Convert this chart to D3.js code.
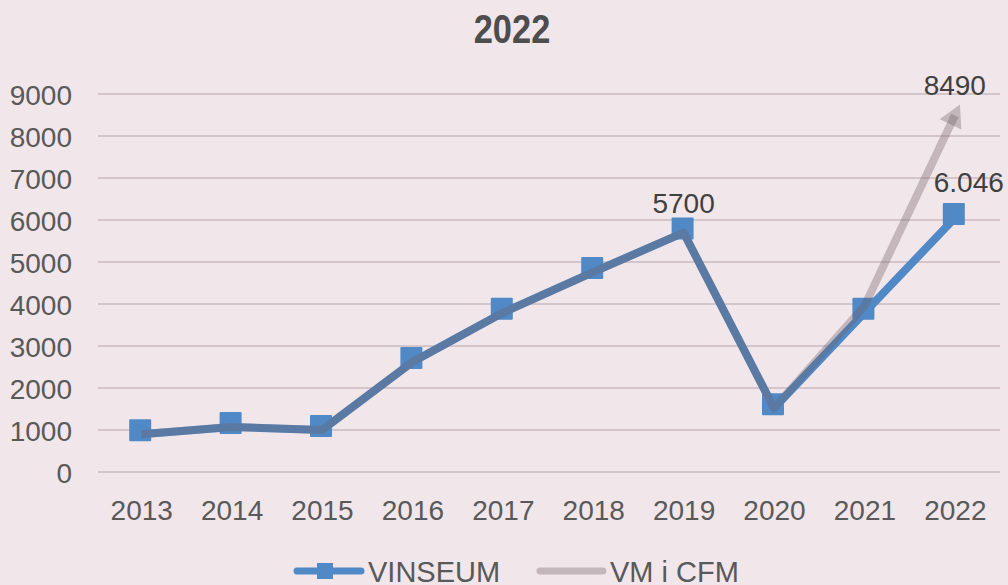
<!DOCTYPE html>
<html>
<head>
<meta charset="utf-8">
<script src="https://cdn.jsdelivr.net/npm/d3@7"></script>
<style>
  body { margin: 0; background: #f1e6ea; }
  text { font-family: "Liberation Sans", Arial, sans-serif; }
</style>
</head>
<body>
<div id="chart"></div>
<script>
var years = ['2013','2014','2015','2016','2017','2018','2019','2020','2021','2022'];
var vinseum = [900, 1070, 1000, 2620, 3790, 4760, 5700, 1520, 3790, 6046];
var vmCfm = [900, 1070, 1000, 2620, 3790, 4760, 5700, 1520, 3950, 8490];
var yTicks = [0,1000,2000,3000,4000,5000,6000,7000,8000,9000];
var seriesNames = ['VINSEUM', 'VM i CFM'];

var width = 1008,
    height = 585;

var blue = '#5089c6',
    grey = 'rgb(110,95,100)';

var svg = d3.select('#chart').append('svg')
  .attr('width', width)
  .attr('height', height);

svg.append('rect')
  .attr('width', width)
  .attr('height', height)
  .attr('fill', '#f1e6ea');

var x = d3.scalePoint()
  .domain(years)
  .range([96, 1000])
  .padding(0.5);

var y = d3.scaleLinear()
  .domain([0, 9000])
  .range([472, 94]);

// title (condensed bold look)
svg.append('text')
  .attr('transform', 'translate(512,43) scale(0.86,1)')
  .attr('text-anchor', 'middle')
  .attr('font-size', 40)
  .attr('font-weight', 'bold')
  .attr('fill', '#4d4d4d')
  .text('2022');

// gridlines
svg.append('g')
  .selectAll('line')
  .data(yTicks)
  .enter()
  .append('line')
  .attr('x1', 98)
  .attr('x2', 1000)
  .attr('y1', function(d) { return y(d); })
  .attr('y2', function(d) { return y(d); })
  .attr('stroke', '#d3c5ca')
  .attr('stroke-width', 2);

// y axis labels
var yAxis = svg.append('g')
  .attr('transform', 'translate(72,0)')
  .call(d3.axisLeft(y).tickValues(yTicks).tickFormat(d3.format('d')).tickSize(0).tickPadding(0));
yAxis.select('.domain').remove();
yAxis.selectAll('text')
  .attr('font-size', 28)
  .attr('fill', '#595959')
  .attr('font-family', null)
  .attr('dy', '0.36em');

// x axis labels
var xAxis = svg.append('g')
  .attr('transform', 'translate(0,499)')
  .call(d3.axisBottom(x).tickSize(0).tickPadding(0));
xAxis.select('.domain').remove();
xAxis.selectAll('text')
  .attr('font-size', 28)
  .attr('fill', '#595959')
  .attr('font-family', null)
  .attr('dy', '0.75em');

var line = d3.line()
  .x(function(d, i) { return x(years[i]); })
  .y(function(d) { return y(d); });

// VINSEUM line + markers
svg.append('path')
  .datum(vinseum)
  .attr('d', line)
  .attr('fill', 'none')
  .attr('stroke', blue)
  .attr('stroke-width', 8)
  .attr('stroke-linejoin', 'round');

svg.append('g')
  .selectAll('rect')
  .data(vinseum)
  .enter()
  .append('rect')
  .attr('x', function(d, i) { return x(years[i]) - 12; })
  .attr('y', function(d) { return y(d) - 15; })
  .attr('width', 22)
  .attr('height', 22)
  .attr('rx', 1)
  .attr('fill', blue);

// VM i CFM line, semi transparent with arrow at end
var last = vmCfm.length - 1;
var x0 = x(years[last - 1]), y0 = y(vmCfm[last - 1]);
var x1 = x(years[last]), y1 = y(vmCfm[last]);
var ang = Math.atan2(y1 - y0, x1 - x0);

svg.append('path')
  .datum(vmCfm)
  .attr('d', line)
  .attr('fill', 'none')
  .attr('stroke', grey)
  .attr('stroke-opacity', 0.35)
  .attr('stroke-width', 8)
  .attr('stroke-linejoin', 'round');

var tip = 12, back = 10, half = 12;
var arrow = [
  [x1 + tip * Math.cos(ang), y1 + tip * Math.sin(ang)],
  [x1 - back * Math.cos(ang) + half * Math.sin(ang), y1 - back * Math.sin(ang) - half * Math.cos(ang)],
  [x1 - back * Math.cos(ang) - half * Math.sin(ang), y1 - back * Math.sin(ang) + half * Math.cos(ang)]
];
svg.append('path')
  .attr('d', 'M' + arrow.join('L') + 'Z')
  .attr('fill', grey)
  .attr('fill-opacity', 0.35);

// data labels
var labels = [
  { year: '2019', value: vinseum[6], text: '5700', dx: 0, dy: -20 },
  { year: '2022', value: vmCfm[9], text: '8490', dx: 0, dy: -20 },
  { year: '2022', value: vinseum[9], text: '6.046', dx: 14, dy: -26 }
];
svg.append('g')
  .selectAll('text')
  .data(labels)
  .enter()
  .append('text')
  .attr('x', function(d) { return x(d.year) + d.dx; })
  .attr('y', function(d) { return y(d.value) + d.dy; })
  .attr('text-anchor', 'middle')
  .attr('font-size', 28)
  .attr('fill', '#404040')
  .text(function(d) { return d.text; });

// legend
var legend = svg.append('g');
legend.append('line')
  .attr('x1', 297).attr('x2', 361)
  .attr('y1', 571).attr('y2', 571)
  .attr('stroke', blue)
  .attr('stroke-width', 7)
  .attr('stroke-linecap', 'round');
legend.append('rect')
  .attr('x', 317).attr('y', 563)
  .attr('width', 16).attr('height', 16)
  .attr('fill', blue);
legend.append('line')
  .attr('x1', 540).attr('x2', 603)
  .attr('y1', 571).attr('y2', 571)
  .attr('stroke', grey)
  .attr('stroke-opacity', 0.35)
  .attr('stroke-width', 7)
  .attr('stroke-linecap', 'round');
legend.selectAll('text')
  .data(seriesNames)
  .enter()
  .append('text')
  .attr('x', function(d, i) { return i === 0 ? 368 : 610; })
  .attr('y', 582)
  .attr('font-size', 29)
  .attr('fill', '#595959')
  .text(function(d) { return d; });
</script>
</body>
</html>
